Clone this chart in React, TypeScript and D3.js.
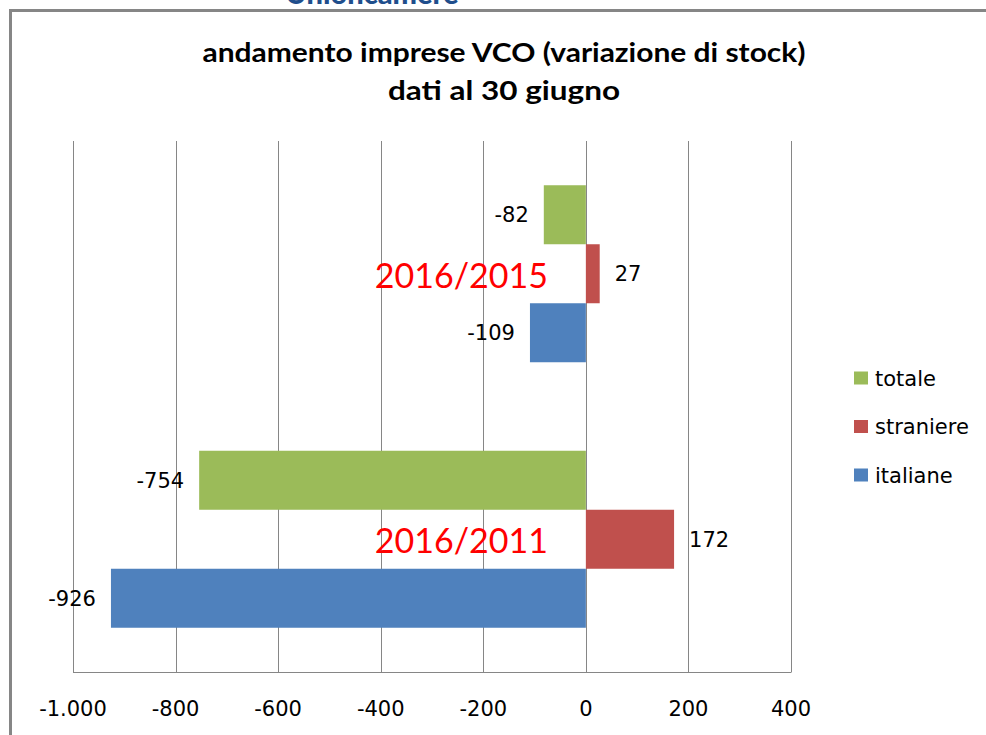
import React from "react";
import * as d3 from "d3";

const categories = ["2016/2015", "2016/2011"];
const seriesNames = ["totale", "straniere", "italiane"];
const totale = [-82, -754];
const straniere = [27, 172];
const italiane = [-109, -926];
const xTicks = [-1000, -800, -600, -400, -200, 0, 200, 400];
const xTickLabels = ["-1.000", "-800", "-600", "-400", "-200", "0", "200", "400"];
const colors = ["#9BBB59", "#C0504D", "#4F81BD"];

const W = 986;
const H = 735;
const FONT = "Lato, 'Open Sans', sans-serif";
const LFONT = "'DejaVu Sans', Verdana, sans-serif";

export default function App() {
  const x = d3.scaleLinear().domain([-1000, 400]).range([73, 791]);
  const y = d3.scaleBand<string>().domain(categories).range([141, 672]).padding(0);
  const inner = d3
    .scaleBand<string>()
    .domain(seriesNames)
    .range([0, y.bandwidth()])
    .paddingInner(0)
    .paddingOuter(0.75);
  const values = [totale, straniere, italiane];

  return (
    <svg width={W} height={H} style={{ position: "absolute", left: 0, top: 0, background: "#fff" }}>
      <rect x={0} y={0} width={W} height={H} fill="#fff" />
      <text x={372} y={4} textAnchor="middle" fontFamily={FONT} fontWeight={900} fontSize={29} fill="#1F4E8C">
        Unioncamere
      </text>
      {/* outer border */}
      <path d={`M10.5,${H + 5} L10.5,10.5 L${W + 5},10.5`} fill="none" stroke="#868686" strokeWidth={3} />
      {/* title */}
      <text x={504} y={62} textAnchor="middle" fontFamily={FONT} fontWeight={700} fontSize={27} fill="#000" textLength={603} lengthAdjust="spacingAndGlyphs">
        andamento imprese VCO (variazione di stock)
      </text>
      <text x={504} y={100} textAnchor="middle" fontFamily={FONT} fontWeight={700} fontSize={27} fill="#000" textLength={232} lengthAdjust="spacingAndGlyphs">
        dati al 30 giugno
      </text>
      {/* gridlines */}
      {xTicks.map((t) => (
        <line key={t} x1={Math.round(x(t)) + 0.5} x2={Math.round(x(t)) + 0.5} y1={141} y2={672} stroke="#868686" strokeWidth={1} />
      ))}
      <line x1={73} x2={791.5} y1={672.5} y2={672.5} stroke="#868686" strokeWidth={1} />
      {/* bars */}
      {categories.map((c, ci) =>
        seriesNames.map((s, si) => {
          const v = values[si][ci];
          const y0 = (y(c) as number) + (inner(s) as number);
          const x0 = Math.min(x(0), x(v));
          const w = Math.abs(x(v) - x(0));
          return (
            <rect key={c + s} x={x0} y={y0} width={w} height={inner.bandwidth()} fill={colors[si]} />
          );
        })
      )}
      {/* data labels */}
      {categories.map((c, ci) =>
        seriesNames.map((s, si) => {
          const v = values[si][ci];
          const yc = (y(c) as number) + (inner(s) as number) + inner.bandwidth() / 2;
          const neg = v < 0;
          return (
            <text
              key={"l" + c + s}
              x={neg ? x(v) - 15 : x(v) + 15}
              y={yc}
              dy="0.36em"
              textAnchor={neg ? "end" : "start"}
              fontFamily={LFONT}
              fontSize={21}
              fill="#000"
            >
              {String(v)}
            </text>
          );
        })
      )}
      {/* category labels */}
      {categories.map((c) => (
        <text
          key={"c" + c}
          x={548}
          y={(y(c) as number) + y.bandwidth() / 2 + 2}
          dy="0.35em"
          textAnchor="end"
          fontFamily={FONT}
          fontSize={34}
          fill="#FF0000"
        >
          {c}
        </text>
      ))}
      {/* x tick labels */}
      {xTicks.map((t, i) => (
        <text key={"t" + t} x={x(t)} y={708} dy="0.36em" textAnchor="middle" fontFamily={LFONT} fontSize={21} fill="#000">
          {xTickLabels[i]}
        </text>
      ))}
      {/* legend */}
      {seriesNames.map((s, i) => (
        <g key={"lg" + s} transform={`translate(854, ${378 + i * 48.5})`}>
          <rect x={0} y={-6.5} width={14} height={13} fill={colors[i]} />
          <text x={21} y={0} dy="0.36em" fontFamily={LFONT} fontSize={21} fill="#000">
            {s}
          </text>
        </g>
      ))}
    </svg>
  );
}
